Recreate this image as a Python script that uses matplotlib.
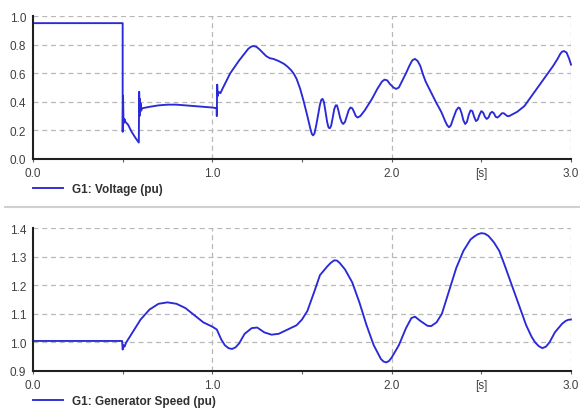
import matplotlib
matplotlib.use("Agg")
import matplotlib.pyplot as plt
from matplotlib.lines import Line2D

# ---- data ----
volt_t = [0.0, 0.5, 0.5, 0.502, 0.505, 0.51, 0.515, 0.53, 0.55, 0.57, 0.59,
          0.592, 0.594, 0.596, 0.598, 0.60, 0.603, 0.61, 0.65, 0.70, 0.75, 0.80,
          0.85, 0.90, 0.95, 1.0, 1.024, 1.025, 1.027, 1.03, 1.035, 1.045, 1.06,
          1.10, 1.15, 1.20, 1.215, 1.23, 1.245, 1.26, 1.28, 1.30, 1.32, 1.34,
          1.37, 1.40, 1.42, 1.44, 1.455, 1.47, 1.49, 1.51, 1.53, 1.545, 1.555,
          1.562, 1.57, 1.58, 1.59, 1.60, 1.608, 1.615, 1.622, 1.63, 1.64, 1.648,
          1.655, 1.662, 1.67, 1.68, 1.688, 1.695, 1.703, 1.712, 1.722, 1.73, 1.74,
          1.75, 1.76, 1.77, 1.78, 1.79, 1.80, 1.81, 1.825, 1.85, 1.89, 1.92, 1.945,
          1.96, 1.975, 1.99, 2.01, 2.025, 2.04, 2.06, 2.08, 2.10, 2.115, 2.13,
          2.145, 2.16, 2.175, 2.19, 2.21, 2.23, 2.25, 2.27, 2.28, 2.30, 2.31, 2.32,
          2.33, 2.345, 2.36, 2.372, 2.38, 2.39, 2.40, 2.41, 2.42, 2.43, 2.44, 2.45,
          2.46, 2.47, 2.48, 2.49, 2.50, 2.51, 2.52, 2.53, 2.54, 2.55, 2.56, 2.57,
          2.58, 2.59, 2.60, 2.615, 2.625, 2.635, 2.645, 2.655, 2.67, 2.70, 2.74,
          2.78, 2.82, 2.86, 2.90, 2.925, 2.94, 2.95, 2.96, 2.975, 2.99, 3.0]
volt_v = [0.95, 0.95, 0.19, 0.44, 0.25, 0.28, 0.26, 0.24, 0.19, 0.15, 0.115,
          0.47, 0.30, 0.42, 0.33, 0.39, 0.34, 0.355, 0.365, 0.375, 0.38, 0.38,
          0.375, 0.37, 0.365, 0.36, 0.355, 0.30, 0.52, 0.44, 0.47, 0.46, 0.50,
          0.60, 0.69, 0.77, 0.785, 0.79, 0.785, 0.77, 0.745, 0.72, 0.705, 0.70,
          0.685, 0.665, 0.645, 0.62, 0.595, 0.56, 0.49, 0.40, 0.30, 0.22, 0.175,
          0.165, 0.18, 0.24, 0.31, 0.38, 0.415, 0.42, 0.40, 0.34, 0.26, 0.22,
          0.215, 0.23, 0.28, 0.35, 0.375, 0.375, 0.34, 0.29, 0.255, 0.245, 0.26,
          0.30, 0.34, 0.36, 0.355, 0.33, 0.30, 0.29, 0.30, 0.34, 0.42, 0.49, 0.54,
          0.555, 0.55, 0.525, 0.50, 0.49, 0.50, 0.55, 0.60, 0.655, 0.69, 0.70,
          0.685, 0.65, 0.59, 0.54, 0.49, 0.44, 0.39, 0.345, 0.32, 0.26, 0.235, 0.222,
          0.235, 0.29, 0.34, 0.36, 0.355, 0.32, 0.27, 0.245, 0.26, 0.31, 0.34, 0.335,
          0.295, 0.265, 0.275, 0.31, 0.335, 0.325, 0.295, 0.28, 0.29, 0.32, 0.33, 0.32,
          0.295, 0.29, 0.30, 0.32, 0.32, 0.31, 0.30, 0.30, 0.31, 0.33, 0.37,
          0.44, 0.51, 0.58, 0.65, 0.70, 0.735, 0.75, 0.755, 0.745, 0.70, 0.66]

speed_t = [0.0, 0.497, 0.5, 0.505, 0.51, 0.52, 0.55, 0.60, 0.65, 0.70, 0.75,
           0.80, 0.85, 0.90, 0.95, 1.0, 1.025, 1.05, 1.07, 1.09, 1.11, 1.13, 1.15,
           1.18, 1.22, 1.25, 1.29, 1.33, 1.37, 1.42, 1.47, 1.50, 1.53, 1.57, 1.60,
           1.64, 1.66, 1.68, 1.695, 1.71, 1.74, 1.78, 1.82, 1.86, 1.90, 1.94, 1.955,
           1.97, 1.985, 2.0, 2.04, 2.08, 2.11, 2.13, 2.16, 2.20, 2.22, 2.25, 2.28,
           2.32, 2.36, 2.40, 2.44, 2.46, 2.48, 2.50, 2.52, 2.54, 2.57, 2.60, 2.63,
           2.67, 2.71, 2.75, 2.78, 2.80, 2.82, 2.84, 2.86, 2.88, 2.91, 2.95, 2.97,
           2.985, 3.0]
speed_v = [1.005, 1.005, 0.975, 0.99, 0.985, 1.0, 1.03, 1.08, 1.115, 1.135, 1.14,
           1.135, 1.12, 1.095, 1.07, 1.055, 1.045, 1.01, 0.99, 0.98, 0.977, 0.983,
           0.997, 1.03, 1.05, 1.052, 1.035, 1.027, 1.03, 1.045, 1.06, 1.08, 1.11,
           1.18, 1.235, 1.265, 1.278, 1.287, 1.286, 1.278, 1.255, 1.21, 1.14, 1.06,
           0.99, 0.942, 0.933, 0.93, 0.935, 0.947, 0.99, 1.05, 1.085, 1.09, 1.075,
           1.058, 1.057, 1.07, 1.10, 1.18, 1.26, 1.32, 1.36, 1.37, 1.378, 1.382,
           1.38, 1.372, 1.35, 1.32, 1.27, 1.20, 1.13, 1.06, 1.02, 1.0, 0.987, 0.98,
           0.985, 1.0, 1.035, 1.065, 1.075, 1.079, 1.08]

x_ticks = [0.0, 0.5, 1.0, 1.5, 2.0, 2.5, 3.0]
x_labels = ["0.0", "", "1.0", "", "2.0", "[s]", "3.0"]
top_yticks = [0.0, 0.2, 0.4, 0.6, 0.8, 1.0]
bot_yticks = [0.9, 1.0, 1.1, 1.2, 1.3, 1.4]
legend_top = "G1: Voltage (pu)"
legend_bot = "G1: Generator Speed (pu)"

# ---- style ----
plt.rcParams['font.family'] = ['Liberation Sans', 'DejaVu Sans']
LINE = '#2a2ad6'
GRID = '#b8b8b8'
TXT = '#404040'
FS = 8.5

fig = plt.figure(figsize=(5.8, 4.1), dpi=100)
W, H = 580.0, 410.0
ax1 = fig.add_axes([33 / W, (H - 160) / H, 538 / W, 143 / H])
ax2 = fig.add_axes([33 / W, (H - 372) / H, 538 / W, 143 / H])


def style(ax, yticks, ylim, xgrid):
    ax.set_xlim(0, 3)
    ax.set_ylim(*ylim)
    ax.set_xticks(x_ticks)
    ax.set_xticklabels(x_labels)
    ax.set_yticks(yticks)
    ax.set_yticklabels([f"{v:.1f}" for v in yticks])
    for s in ('top', 'right'):
        ax.spines[s].set_visible(False)
    for s in ('left', 'bottom'):
        ax.spines[s].set_color('#202020')
        ax.spines[s].set_linewidth(1.5)
    ax.tick_params(axis='x', length=2.5, width=0.8, color='#606060',
                   pad=3, labelsize=FS, labelcolor=TXT)
    ax.tick_params(axis='y', length=0, pad=5, labelsize=FS, labelcolor=TXT)
    for y in yticks[1:]:
        ax.axhline(y, color=GRID, lw=0.9, ls=(0, (4, 3)), zorder=0)
    for x in xgrid:
        ax.axvline(x, color=GRID, lw=0.9, ls=(0, (4, 3)), zorder=0)


style(ax1, top_yticks, (0.0, 1.0), [1.0, 2.0, 3.0])
style(ax2, bot_yticks, (0.9, 1.4), [1.0, 2.0, 3.0])

ax1.plot(volt_t, volt_v, color=LINE, lw=1.35, label=legend_top,
         clip_on=False, solid_joinstyle='round')
ax2.plot(speed_t, speed_v, color=LINE, lw=1.35, label=legend_bot,
         clip_on=False, solid_joinstyle='round')

for ax in (ax1, ax2):
    leg = ax.legend(loc='center left', bbox_to_anchor=(0.0, -0.21),
                    frameon=False, borderpad=0, borderaxespad=0,
                    handlelength=2.55, handletextpad=0.75,
                    prop={'family': ['Liberation Sans', 'DejaVu Sans'],
                          'weight': 'bold', 'size': FS})
    for t in leg.get_texts():
        t.set_color('#303030')

# separator line between the two panels
fig.add_artist(Line2D([5 / W, 1.0], [1 - 208 / H, 1 - 208 / H],
                      color='#d0d0d0', lw=1.5))

fig.savefig('out.png', dpi=100, facecolor='white')
